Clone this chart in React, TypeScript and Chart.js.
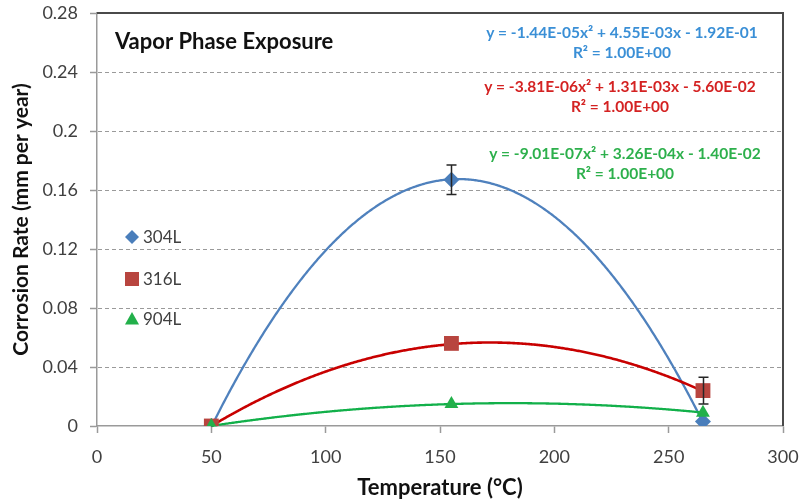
import React, { useEffect, useRef } from 'react';
import { Chart, registerables } from 'chart.js';

Chart.register(...registerables);

// ---- data ----
const temperatures = [50, 155, 265];
const seriesNames = ['304L', '316L', '904L'];
const rate304L = [0, 0.167, 0.003];
const rate316L = [0, 0.056, 0.024];
const rate904L = [0, 0.015, 0.009];
const err304L = [0, 0.01, 0];
const err316L = [0, 0, 0.009];
const err904L = [0, 0, 0];
// quadratic trendline coefficients [a, b, c] : y = a x^2 + b x + c
const fit304L = [-1.44e-5, 4.55e-3, -1.92e-1];
const fit316L = [-3.81e-6, 1.31e-3, -5.6e-2];
const fit904L = [-9.01e-7, 3.26e-4, -1.4e-2];
const equationLabels = [
  'y = -1.44E-05x² + 4.55E-03x - 1.92E-01',
  'y = -3.81E-06x² + 1.31E-03x - 5.60E-02',
  'y = -9.01E-07x² + 3.26E-04x - 1.40E-02',
];
const r2Labels = ['R² = 1.00E+00', 'R² = 1.00E+00', 'R² = 1.00E+00'];
const xTickLabels = ['0', '50', '100', '150', '200', '250', '300'];
const yTickLabels = ['0', '0.04', '0.08', '0.12', '0.16', '0.2', '0.24', '0.28'];
const chartTitle = 'Vapor Phase Exposure';
const xTitle = 'Temperature (°C)';
const yTitle = 'Corrosion Rate (mm per year)';

const FONT = "Lato, 'Liberation Sans', sans-serif";

const markerColors = ['#4A7EBB', '#B8453F', '#22B04A'];
const curveColors = ['#4F81BD', '#C80000', '#12B04A'];
const textColors = ['#3A8FD6', '#D42222', '#2DB04C'];

const seriesValues = [rate304L, rate316L, rate904L];
const seriesErrors = [err304L, err316L, err904L];
const seriesFits = [fit304L, fit316L, fit904L];

function drawShape(ctx: CanvasRenderingContext2D, kind: number, cx: number, cy: number, color: string) {
  ctx.fillStyle = color;
  ctx.beginPath();
  if (kind === 0) {
    const r = 7;
    ctx.moveTo(cx, cy - r);
    ctx.lineTo(cx + r, cy);
    ctx.lineTo(cx, cy + r);
    ctx.lineTo(cx - r, cy);
  } else if (kind === 1) {
    const h = 7;
    ctx.rect(cx - h, cy - h, 2 * h, 2 * h);
  } else {
    const h = 7;
    ctx.moveTo(cx, cy - h);
    ctx.lineTo(cx + h, cy + h * 0.8);
    ctx.lineTo(cx - h, cy + h * 0.8);
  }
  ctx.closePath();
  ctx.fill();
}

const decorPlugin = {
  id: 'decor',
  beforeDatasetsDraw(chart: any) {
    const { ctx, chartArea: a } = chart;
    const xs = chart.scales.x;
    const ys = chart.scales.y;
    ctx.save();
    // dashed horizontal gridlines
    ctx.strokeStyle = '#9a9a9a';
    ctx.lineWidth = 1;
    ctx.setLineDash([4, 3]);
    ys.ticks.forEach((t: any) => {
      if (t.value <= 1e-9 || t.value >= ys.max - 1e-9) return;
      const py = Math.round(ys.getPixelForValue(t.value)) + 0.5;
      ctx.beginPath();
      ctx.moveTo(a.left - 6, py);
      ctx.lineTo(a.right, py);
      ctx.stroke();
    });
    ctx.setLineDash([]);
    // top and right frame
    ctx.strokeStyle = '#4a4a4a';
    ctx.lineWidth = 2;
    ctx.beginPath();
    ctx.moveTo(a.left, a.top);
    ctx.lineTo(a.right, a.top);
    ctx.lineTo(a.right, a.bottom);
    ctx.stroke();
    // polynomial trendlines
    ctx.beginPath();
    ctx.rect(a.left, a.top, a.right - a.left, a.bottom - a.top + 3);
    ctx.clip();
    const x0 = temperatures[0];
    const x1 = temperatures[temperatures.length - 1];
    seriesFits.forEach((f, i) => {
      ctx.strokeStyle = curveColors[i];
      ctx.lineWidth = i === 1 ? 2.6 : 2.3;
      ctx.lineJoin = 'round';
      ctx.beginPath();
      for (let t = x0; t <= x1 + 1e-9; t += 0.5) {
        const v = f[0] * t * t + f[1] * t + f[2];
        const px = xs.getPixelForValue(t);
        const py = ys.getPixelForValue(v);
        if (t === x0) ctx.moveTo(px, py);
        else ctx.lineTo(px, py);
      }
      ctx.stroke();
    });
    ctx.restore();
  },
  afterDatasetsDraw(chart: any) {
    const { ctx } = chart;
    const xs = chart.scales.x;
    const ys = chart.scales.y;
    ctx.save();
    ctx.strokeStyle = '#262626';
    ctx.lineWidth = 1.5;
    seriesErrors.forEach((errs, si) => {
      errs.forEach((e, i) => {
        if (!e) return;
        const v = seriesValues[si][i];
        const px = Math.round(xs.getPixelForValue(temperatures[i])) + 0.5;
        const pTop = ys.getPixelForValue(v + e);
        const pBot = ys.getPixelForValue(v - e);
        ctx.beginPath();
        ctx.moveTo(px, pTop);
        ctx.lineTo(px, pBot);
        ctx.moveTo(px - 5, pTop);
        ctx.lineTo(px + 5, pTop);
        ctx.moveTo(px - 5, pBot);
        ctx.lineTo(px + 5, pBot);
        ctx.stroke();
      });
    });
    ctx.restore();
  },
  afterDraw(chart: any) {
    const { ctx, chartArea: a } = chart;
    ctx.save();
    // chart title inside plot
    ctx.fillStyle = '#111';
    ctx.font = `bold 22px ${FONT}`;
    ctx.textAlign = 'left';
    ctx.textBaseline = 'middle';
    ctx.fillText(chartTitle, a.left + 18, a.top + 29);
    // legend
    const legendY = [237, 279, 319];
    seriesNames.forEach((name, i) => {
      drawShape(ctx, i, a.left + 35, legendY[i], markerColors[i]);
      ctx.fillStyle = '#404040';
      ctx.font = `17px ${FONT}`;
      ctx.textAlign = 'left';
      ctx.fillText(name, a.left + 46, legendY[i] + 1);
    });
    // trendline equations
    const eqY = [33, 87, 154];
    const eqX = [622, 620, 625];
    equationLabels.forEach((eq, i) => {
      ctx.fillStyle = textColors[i];
      ctx.font = `bold 15.5px ${FONT}`;
      ctx.textAlign = 'center';
      ctx.fillText(eq, eqX[i], eqY[i]);
      ctx.fillText(r2Labels[i], eqX[i], eqY[i] + 20);
    });
    ctx.restore();
  },
};

function zeroPad(s: any) {
  s.paddingLeft = 0;
  s.paddingRight = 0;
  s.paddingTop = 0;
  s.paddingBottom = 0;
}

export default function App() {
  const ref = useRef<HTMLCanvasElement | null>(null);
  useEffect(() => {
    document.body.style.margin = '0';
    const canvas = ref.current;
    if (!canvas) return;
    const pointStyles = ['rectRot', 'rect', 'triangle'];
    const radii = [8, 10.5, 8];
    const datasets = seriesNames.map((name, i) => ({
      label: name,
      data: temperatures.map((t, j) => ({ x: t, y: seriesValues[i][j] })),
      pointStyle: pointStyles[i],
      pointRadius: radii[i],
      pointBackgroundColor: markerColors[i],
      pointBorderColor: markerColors[i],
      pointBorderWidth: 0,
      showLine: false,
      order: 2 - i,
    }));
    const chart = new Chart(canvas, {
      type: 'scatter',
      data: { datasets },
      plugins: [decorPlugin],
      options: {
        animation: false,
        responsive: false,
        devicePixelRatio: 1,
        layout: { padding: { top: 13, right: 17, left: 0, bottom: 0 } },
        plugins: { legend: { display: false }, tooltip: { enabled: false } },
        scales: {
          x: {
            type: 'linear',
            min: 0,
            max: 300,
            afterFit: (s: any) => { s.height = 75; zeroPad(s); },
            ticks: {
              stepSize: 50,
              color: '#404040',
              font: { family: FONT, size: 18 },
              padding: 13,
              callback: (_v: any, i: number) => xTickLabels[i],
            },
            grid: { drawOnChartArea: false, drawTicks: true, tickLength: 7, tickColor: '#9a9a9a', tickWidth: 1.5 },
            border: { color: '#9a9a9a', width: 1.5 },
            title: {
              display: true,
              text: xTitle,
              color: '#111',
              font: { family: FONT, size: 22, weight: 'bold' },
              padding: { top: 0, bottom: 0 },
            },
          },
          y: {
            type: 'linear',
            min: 0,
            max: 0.28,
            afterFit: (s: any) => { s.width = 97; zeroPad(s); },
            ticks: {
              stepSize: 0.04,
              color: '#404040',
              font: { family: FONT, size: 18 },
              padding: 12,
              callback: (_v: any, i: number) => yTickLabels[i],
            },
            grid: { drawOnChartArea: false, drawTicks: true, tickLength: 7, tickColor: '#9a9a9a', tickWidth: 1.5 },
            border: { color: '#9a9a9a', width: 1.5 },
            title: {
              display: true,
              text: yTitle,
              color: '#111',
              font: { family: FONT, size: 21, weight: 'bold' },
              padding: { top: 9, bottom: 0 },
            },
          },
        },
      } as any,
    });
    return () => chart.destroy();
  }, []);
  return (
    <div style={{ width: 800, height: 501, position: 'relative', background: '#fff' }}>
      <canvas ref={ref} width={800} height={501} style={{ display: 'block' }} />
    </div>
  );
}
